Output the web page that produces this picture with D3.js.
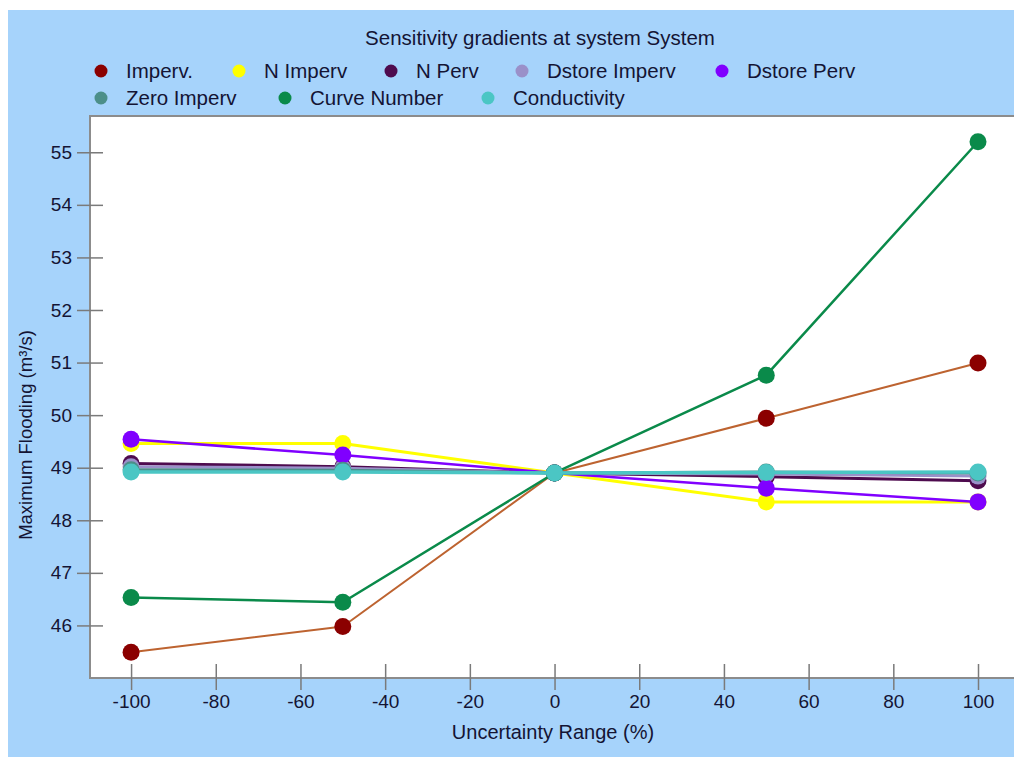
<!DOCTYPE html>
<html>
<head>
<meta charset="utf-8">
<script src="https://cdn.jsdelivr.net/npm/d3@7"></script>
<style>
  html, body { margin: 0; padding: 0; background: #ffffff; }
  svg { display: block; }
  text { font-family: "Liberation Sans", Arial, sans-serif; fill: #141434; }
</style>
</head>
<body>
<svg id="chart" width="1014" height="757"></svg>
<script>
// Uncertainty range steps (%)
const steps = [-100, -50, 0, 50, 100];

// Parameter names, in legend order
const seriesNames = ["Imperv.", "N Imperv", "N Perv", "Dstore Imperv", "Dstore Perv",
                     "Zero Imperv", "Curve Number", "Conductivity"];

// Maximum flooding (m³/s) for each parameter at each step
const impervValues       = [45.49, 45.98, 48.90, 49.94, 50.99];
const nImpervValues      = [49.46, 49.46, 48.90, 48.35, 48.35];
const nPervValues        = [49.08, 49.02, 48.90, 48.83, 48.75];
const dstoreImpervValues = [49.02, 48.99, 48.90, 48.88, 48.84];
const dstorePervValues   = [49.54, 49.24, 48.90, 48.61, 48.35];
const zeroImpervValues   = [48.96, 48.95, 48.90, 48.92, 48.90];
const curveNumberValues  = [46.53, 46.44, 48.90, 50.76, 55.20];
const conductivityValues = [48.92, 48.92, 48.90, 48.91, 48.92];

const seriesValues = [impervValues, nImpervValues, nPervValues, dstoreImpervValues,
                      dstorePervValues, zeroImpervValues, curveNumberValues, conductivityValues];

// Marker and line colours per parameter
const markerColors = ["#8b0000", "#ffff00", "#4e0b4e", "#9a90c9", "#8000ff",
                      "#4c8f89", "#0a8a4a", "#4bc6c4"];
const lineColors   = ["#bd6330", "#ffff00", "#4e0b4e", "#9a90c9", "#8000ff",
                      "#4c8f89", "#0a8a4a", "#4bc6c4"];
const lineWidths   = [2, 3, 3, 3, 2.5, 3, 2.5, 3.5];

const xTicks = [-100, -80, -60, -40, -20, 0, 20, 40, 60, 80, 100];
const yTicks = [46, 47, 48, 49, 50, 51, 52, 53, 54, 55];

const titleText = "Sensitivity gradients at system System";
const xTitle = "Uncertainty Range (%)";
const yTitle = "Maximum Flooding (m³/s)";

const svg = d3.select("#chart");

// panel background
svg.append("rect").attr("x", 8).attr("y", 10).attr("width", 1006).attr("height", 747)
  .attr("fill", "#a6d3fb");

const plot = { left: 90, top: 116, right: 1014, bottom: 678 };

const x = d3.scaleLinear().domain([-109.7, 108.5]).range([plot.left, plot.right]);
const y = d3.scaleLinear().domain([45.0, 55.69]).range([plot.bottom, plot.top]);

// plot area
svg.append("rect")
  .attr("x", plot.left).attr("y", plot.top)
  .attr("width", plot.right - plot.left).attr("height", plot.bottom - plot.top)
  .attr("fill", "#ffffff");

// frame (left, top, bottom)
svg.append("path")
  .attr("d", `M${plot.right},${plot.top}H${plot.left}V${plot.bottom}H${plot.right}`)
  .attr("fill", "none").attr("stroke", "#8c8c8c").attr("stroke-width", 2);

const plainNumber = d => String(d);

// axes
const xAxis = d3.axisBottom(x).tickValues(xTicks).tickSize(14).tickPadding(12)
  .tickFormat(plainNumber);
const gx = svg.append("g").attr("transform", `translate(0,${plot.bottom - 14})`).call(xAxis);
gx.select(".domain").remove();
gx.selectAll(".tick line").attr("stroke", "#7a7a7a").attr("stroke-width", 1.5).attr("y2", 26);
gx.selectAll(".tick text").attr("font-size", 19).attr("y", 31)
  .style("font-family", "'Liberation Sans', Arial, sans-serif").attr("fill", "#141434");

const yAxis = d3.axisLeft(y).tickValues(yTicks).tickSize(26).tickPadding(5)
  .tickFormat(plainNumber);
const gy = svg.append("g").attr("transform", `translate(${plot.left + 13},0)`).call(yAxis);
gy.select(".domain").remove();
gy.selectAll(".tick line").attr("stroke", "#7a7a7a").attr("stroke-width", 1.5);
gy.selectAll(".tick text").attr("font-size", 19)
  .style("font-family", "'Liberation Sans', Arial, sans-serif").attr("fill", "#141434");

// axis titles
svg.append("text").attr("x", 553).attr("y", 739).attr("text-anchor", "middle")
  .attr("font-size", 20).text(xTitle);
svg.append("text").attr("transform", "translate(32,435) rotate(-90)")
  .attr("text-anchor", "middle").attr("font-size", 18.5).text(yTitle);

// chart title
svg.append("text").attr("x", 540).attr("y", 45).attr("text-anchor", "middle")
  .attr("font-size", 20.5).text(titleText);

// legend
const legendPos = [
  [101, 71], [239, 71], [391, 71], [522, 71], [722, 71],
  [101, 98], [285, 98], [488, 98]
];
const legend = svg.append("g");
seriesNames.forEach((name, i) => {
  const [lx, ly] = legendPos[i];
  legend.append("circle").attr("cx", lx).attr("cy", ly).attr("r", 6.5)
    .attr("fill", markerColors[i]);
  legend.append("text").attr("x", lx + 25).attr("y", ly + 7)
    .attr("font-size", 20.5).text(name);
});

// series lines and markers
const line = d3.line().x((d, j) => x(steps[j])).y(d => y(d));
const layer = svg.append("g");
seriesValues.forEach((vals, i) => {
  const g = layer.append("g");
  g.append("path").datum(vals).attr("d", line)
    .attr("fill", "none").attr("stroke", lineColors[i])
    .attr("stroke-width", lineWidths[i]).attr("stroke-linejoin", "round");
  g.selectAll("circle").data(vals).join("circle")
    .attr("cx", (d, j) => x(steps[j])).attr("cy", d => y(d)).attr("r", 8.5)
    .attr("fill", markerColors[i]);
});
</script>
</body>
</html>
